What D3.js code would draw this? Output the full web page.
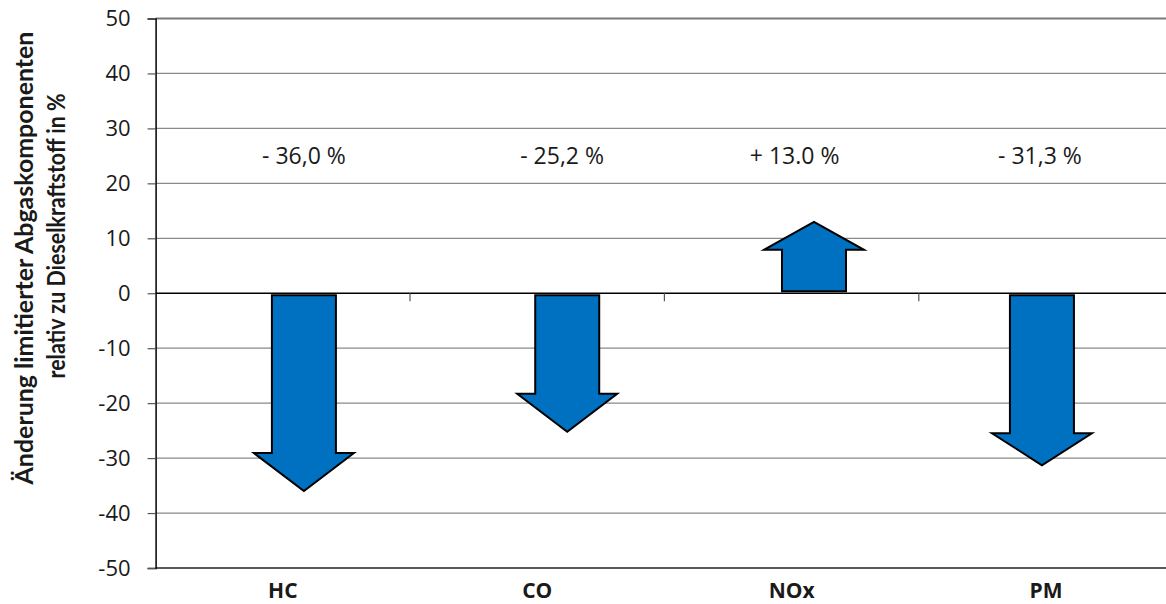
<!DOCTYPE html>
<html>
<head>
<meta charset="utf-8">
<script src="https://cdn.jsdelivr.net/npm/d3@7"></script>
<style>
  html, body { margin: 0; padding: 0; background: #fff; }
  svg { display: block; }
  text { font-family: "Open Sans", "DejaVu Sans", sans-serif; fill: #1a1a1a; }
</style>
</head>
<body>
<svg id="chart" width="1166" height="604"></svg>
<script>
// Emission components and their change relative to diesel fuel (%)
const categories = ["HC", "CO", "NOx", "PM"];
const changes = [-36.0, -25.2, 13.0, -31.3];
const valueLabels = ["- 36,0 %", "- 25,2 %", "+ 13.0 %", "- 31,3 %"];
const yTicks = [-50, -40, -30, -20, -10, 0, 10, 20, 30, 40, 50];
const titleLines = ["Änderung limitierter Abgaskomponenten", "relativ zu Dieselkraftstoff in %"];

// Layout and styling
const plot = { left: 155.6, top: 18.5, bottom: 568, bandWidth: 254.4 };
const arrowShift = [0.083, 0.118, 0.088, -0.016];   // fraction of band width
const labelShift = [0.083, 0.098, 0.012, -0.024];
const headLength = [38, 38, 28, 32];
const shaftWidth = 64, headWidth = 100;
const labelLevel = 23.5;
const arrowFill = "#0070C0";

const svg = d3.select("#chart");

const x = d3.scaleBand()
  .domain(categories)
  .range([plot.left, plot.left + plot.bandWidth * categories.length])
  .paddingInner(0).paddingOuter(0);

const y = d3.scaleLinear()
  .domain([-50, 50])
  .range([plot.bottom, plot.top]);

const xEnd = x.range()[1];

// Horizontal gridlines
svg.append("g").selectAll("line")
  .data(yTicks.filter(t => t !== 0 && t !== -50 && t !== 50))
  .join("line")
  .attr("x1", plot.left).attr("x2", xEnd)
  .attr("y1", d => y(d)).attr("y2", d => y(d))
  .attr("stroke", "#8a8a8a").attr("stroke-width", 1.2);

// Top border line
svg.append("line")
  .attr("x1", plot.left).attr("x2", xEnd)
  .attr("y1", y(50)).attr("y2", y(50))
  .attr("stroke", "#7a7a7a").attr("stroke-width", 2);

// Bottom border line
svg.append("line")
  .attr("x1", plot.left).attr("x2", xEnd)
  .attr("y1", y(-50)).attr("y2", y(-50))
  .attr("stroke", "#222").attr("stroke-width", 1.5);

// Y axis
const yAxis = d3.axisLeft(y).tickValues(yTicks).tickSize(8).tickPadding(17)
  .tickFormat(d => String(d));
const gy = svg.append("g")
  .attr("transform", `translate(${plot.left},0)`)
  .call(yAxis);
gy.select(".domain").attr("stroke", "#000").attr("stroke-width", 1.5);
gy.selectAll(".tick line").attr("stroke", "#555").attr("stroke-width", 1.2);
gy.selectAll(".tick text")
  .attr("font-size", 22)
  .attr("fill", "#1a1a1a")
  .style("font-family", '"Open Sans", sans-serif');

// Zero line with category separators
svg.append("line")
  .attr("x1", plot.left).attr("x2", xEnd)
  .attr("y1", y(0)).attr("y2", y(0))
  .attr("stroke", "#000").attr("stroke-width", 1.5);

svg.append("g").selectAll("line")
  .data(categories.slice(1))
  .join("line")
  .attr("x1", d => x(d)).attr("x2", d => x(d))
  .attr("y1", y(0)).attr("y2", y(0) + 8)
  .attr("stroke", "#555").attr("stroke-width", 1.2);

// Category labels
svg.append("g").selectAll("text")
  .data(categories)
  .join("text")
  .attr("x", d => x(d) + x.bandwidth() / 2)
  .attr("y", 598)
  .attr("text-anchor", "middle")
  .attr("font-size", 21)
  .attr("font-weight", "bold")
  .text(d => d);

// Arrow shapes from zero to the change value
function arrowPath(cx, v, head) {
  const dir = v < 0 ? 1 : -1;          // +1 points downward on screen
  const y0 = y(0) + dir * 2;
  const yt = y(v);
  const hb = yt - dir * head;
  const s = shaftWidth / 2, h = headWidth / 2;
  return d3.line()([
    [cx - s, y0], [cx + s, y0], [cx + s, hb], [cx + h, hb],
    [cx, yt], [cx - h, hb], [cx - s, hb]
  ]) + "Z";
}

svg.append("g").selectAll("path")
  .data(categories)
  .join("path")
  .attr("d", (d, i) => arrowPath(
    x(d) + x.bandwidth() / 2 + arrowShift[i] * x.bandwidth(),
    changes[i], headLength[i]))
  .attr("fill", arrowFill)
  .attr("stroke", "#000")
  .attr("stroke-width", 2)
  .attr("stroke-linejoin", "miter");

// Value labels
svg.append("g").selectAll("text")
  .data(categories)
  .join("text")
  .attr("x", (d, i) => x(d) + x.bandwidth() / 2 + labelShift[i] * x.bandwidth())
  .attr("y", y(labelLevel))
  .attr("text-anchor", "middle")
  .attr("font-size", 23)
  .text((d, i) => valueLabels[i]);

// Y axis title (two lines), sized so the first line spans the axis height
const title = svg.append("g").attr("font-weight", "bold");
const t1 = title.append("text")
  .attr("transform", "translate(33,258) rotate(-90)")
  .attr("text-anchor", "middle")
  .style("font-family", "Lato, 'Open Sans', sans-serif")
  .attr("font-size", 20)
  .text(titleLines[0]);
const t2 = title.append("text")
  .attr("transform", "translate(65,236) rotate(-90)")
  .attr("text-anchor", "middle")
  .style("font-family", "Lato, 'Open Sans', sans-serif")
  .attr("font-size", 20)
  .text(titleLines[1]);
const fitSize = 20 * 453 / t1.node().getComputedTextLength();
t1.attr("font-size", fitSize);
t2.attr("font-size", fitSize)
  .attr("textLength", 285)
  .attr("lengthAdjust", "spacingAndGlyphs");
</script>
</body>
</html>
